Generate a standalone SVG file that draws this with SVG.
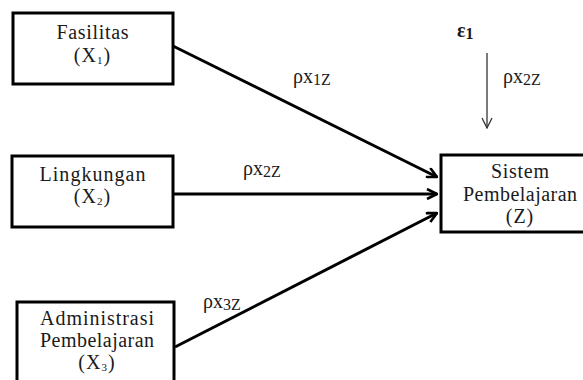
<svg xmlns="http://www.w3.org/2000/svg" width="583" height="380" viewBox="0 0 583 380">
<defs>
<style>
.box{fill:#fff;stroke:#000;stroke-width:3}
.t{font-family:"Liberation Serif","Times New Roman",serif;font-size:20px;fill:#1a1a1a;text-anchor:middle}
.sub{font-size:11px}
.lbl{font-family:"Liberation Serif","Times New Roman",serif;font-size:20px;fill:#1a1a1a}
.ls{font-size:16px}
.c{stroke:#000;stroke-width:3;fill:none}
.e{stroke:#333;stroke-width:1.3;fill:none}
</style>
<marker id="ah" viewBox="0 0 12 12" refX="11" refY="6" markerWidth="12" markerHeight="12" markerUnits="userSpaceOnUse" orient="auto">
<path d="M1,1 L11,6 L1,11" fill="none" stroke="#000" stroke-width="2.6"/>
</marker>
<marker id="ah2" viewBox="0 0 12 12" refX="11" refY="6" markerWidth="12" markerHeight="12" markerUnits="userSpaceOnUse" orient="auto">
<path d="M1,1 L11,6 L1,11" fill="none" stroke="#333" stroke-width="1.3"/>
</marker>
</defs>
<g id="connectors">
<line class="c" x1="173" y1="46" x2="437" y2="177" marker-end="url(#ah)"/>
<line class="c" x1="173" y1="194" x2="437" y2="194" marker-end="url(#ah)"/>
<line class="c" x1="175" y1="347" x2="437" y2="213" marker-end="url(#ah)"/>
<line class="e" x1="487" y1="53" x2="487" y2="128" marker-end="url(#ah2)"/>
<text class="lbl" x="293" y="83">ρx<tspan class="ls" dy="2">1Z</tspan></text>
<text class="lbl" x="243" y="175">ρx<tspan class="ls" dy="2">2Z</tspan></text>
<text class="lbl" x="203" y="308">ρx<tspan class="ls" dy="2">3Z</tspan></text>
<text class="lbl" x="503" y="83">ρx<tspan class="ls" dy="2">2Z</tspan></text>
</g>
<g id="e1">
<text class="lbl" x="457" y="37" font-weight="bold" font-size="22">ε<tspan class="ls" dy="2">1</tspan></text>
</g>
<g id="x1">
<rect class="box" x="13" y="13" width="160" height="71"/>
<text class="t" x="92.5" y="39" textLength="72" lengthAdjust="spacing">Fasilitas</text>
<text class="t" x="92.5" y="62" letter-spacing="1">(X<tspan class="sub" dy="2">1</tspan><tspan dy="-2">)</tspan></text>
</g>
<g id="x2">
<rect class="box" x="12" y="156" width="161" height="71"/>
<text class="t" x="92.5" y="181" textLength="106" lengthAdjust="spacing">Lingkungan</text>
<text class="t" x="92.5" y="203" letter-spacing="1">(X<tspan class="sub" dy="2">2</tspan><tspan dy="-2">)</tspan></text>
</g>
<g id="x3">
<rect class="box" x="17" y="302" width="157" height="90"/>
<text class="t" x="97" y="325" textLength="114" lengthAdjust="spacing">Administrasi</text>
<text class="t" x="97" y="347" textLength="114" lengthAdjust="spacing">Pembelajaran</text>
<text class="t" x="97" y="369" letter-spacing="1">(X<tspan class="sub" dy="2">3</tspan><tspan dy="-2">)</tspan></text>
</g>
<g id="z">
<rect class="box" x="441" y="155" width="150" height="77"/>
<text class="t" x="520" y="178" textLength="58" lengthAdjust="spacing">Sistem</text>
<text class="t" x="520" y="201" textLength="114" lengthAdjust="spacing">Pembelajaran</text>
<text class="t" x="520" y="223" letter-spacing="1">(Z)</text>
</g>
</svg>
